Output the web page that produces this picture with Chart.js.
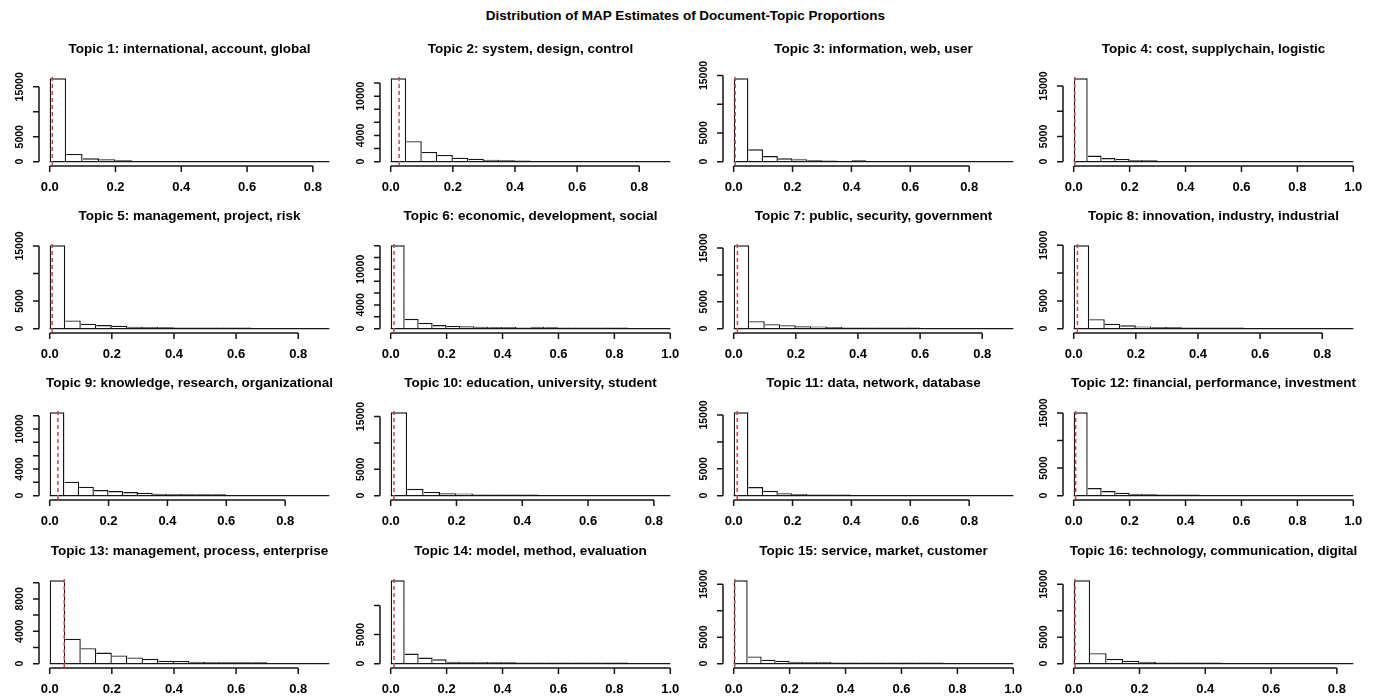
<!DOCTYPE html>
<html>
<head>
<meta charset="utf-8">
<title>Distribution of MAP Estimates of Document-Topic Proportions</title>
<script src="https://cdn.jsdelivr.net/npm/chart.js@4.4.1/dist/chart.umd.min.js"></script>
<style>
  html, body { margin: 0; padding: 0; background: #fff; }
  #page { position: relative; width: 1375px; height: 697px; overflow: hidden; }
  #mainTitle {
    position: absolute; left: 0; top: 8px; width: 1371px; text-align: center;
    font: bold 13.5px "Liberation Sans", Arial, sans-serif; line-height: 16px; color: #000;
  }
  canvas { position: absolute; }
</style>
</head>
<body>
<div id="page">
  <div id="mainTitle">Distribution of MAP Estimates of Document-Topic Proportions</div>
</div>
<script>
// histogram bins are 0.05 wide, starting at 0
const binWidth = 0.05;

const topicTitles = [
  'Topic 1: international, account, global',
  'Topic 2: system, design, control',
  'Topic 3: information, web, user',
  'Topic 4: cost, supplychain, logistic',
  'Topic 5: management, project, risk',
  'Topic 6: economic, development, social',
  'Topic 7: public, security, government',
  'Topic 8: innovation, industry, industrial',
  'Topic 9: knowledge, research, organizational',
  'Topic 10: education, university, student',
  'Topic 11: data, network, database',
  'Topic 12: financial, performance, investment',
  'Topic 13: management, process, enterprise',
  'Topic 14: model, method, evaluation',
  'Topic 15: service, market, customer',
  'Topic 16: technology, communication, digital'
];

const counts1  = [16700, 1550, 680, 470, 270, 90, 50, 30, 15, 10, 6, 4, 3, 2, 1, 1, 1];
const counts2  = [12720, 3130, 1490, 1030, 615, 460, 310, 200, 170, 40, 25, 15, 10, 6, 4, 2, 1, 1];
const counts3  = [14500, 2150, 990, 580, 400, 240, 200, 60, 240, 40, 25, 15, 10, 6, 4, 3, 2, 1, 1];
const counts4  = [16530, 1200, 730, 530, 330, 270, 60, 40, 25, 15, 10, 8, 6, 4, 3, 2, 2, 1, 1, 1];
const counts5  = [15120, 1500, 900, 660, 540, 360, 300, 240, 230, 220, 220, 210, 200, 3, 2, 2, 1, 1];
const counts6  = [14050, 1670, 1000, 610, 440, 390, 330, 280, 280, 190, 330, 220, 210, 200, 200, 190, 190, 3, 2, 1];
const counts7  = [15500, 1400, 840, 650, 470, 400, 300, 240, 230, 220, 210, 200, 3, 2, 2, 1, 1, 1];
const counts8  = [15000, 1700, 900, 600, 400, 300, 240, 230, 220, 210, 200, 5, 3, 2, 1, 1, 1, 1];
const counts9  = [12500, 2100, 1350, 850, 700, 550, 450, 300, 250, 220, 210, 200, 3, 2, 2, 1, 1, 1, 1];
const counts10 = [15800, 1300, 700, 450, 400, 240, 230, 220, 210, 3, 2, 2, 1, 1, 1, 1, 1];
const counts11 = [15500, 1600, 900, 450, 300, 230, 220, 210, 3, 2, 2, 1, 1, 1, 1, 1, 1, 1, 1];
const counts12 = [15120, 1390, 850, 540, 360, 240, 230, 220, 210, 3, 2, 2, 1, 1, 1, 1, 1, 1, 1, 1];
const counts13 = [10290, 3090, 1910, 1380, 1020, 770, 610, 370, 325, 240, 200, 190, 190, 180, 3, 2, 1, 1];
const counts14 = [14300, 1730, 1040, 750, 350, 290, 290, 290, 230, 220, 220, 210, 210, 200, 200, 200, 190, 3, 2, 1];
const counts15 = [15740, 1370, 750, 560, 370, 310, 370, 240, 230, 220, 220, 210, 210, 200, 200, 3, 2, 1, 1, 1];
const counts16 = [15740, 1990, 930, 560, 370, 240, 230, 220, 210, 3, 2, 2, 1, 1, 1, 1, 1];

const topicCounts = [counts1, counts2, counts3, counts4, counts5, counts6, counts7, counts8,
  counts9, counts10, counts11, counts12, counts13, counts14, counts15, counts16];

// mean proportion per topic (red dashed line)
const topicMeans = [0.008, 0.027, 0.005, 0.004, 0.008, 0.012, 0.012, 0.012,
  0.028, 0.010, 0.012, 0.007, 0.047, 0.012, 0.004, 0.004];

// tick labels
const xTicksTo08 = [0, 0.2, 0.4, 0.6, 0.8];
const xTicksTo10 = [0, 0.2, 0.4, 0.6, 0.8, 1.0];
const yTicks15k = [0, 5000, 10000, 15000];
const yTicks12k = [0, 2000, 4000, 6000, 8000, 10000, 12000];
const yTicks14k = [0, 2000, 4000, 6000, 8000, 10000, 12000, 14000];
const yTicks10k = [0, 2000, 4000, 6000, 8000, 10000];
const yTicks10kBy5k = [0, 5000, 10000];

const topicXTicks = [xTicksTo08, xTicksTo08, xTicksTo08, xTicksTo10,
  xTicksTo08, xTicksTo10, xTicksTo08, xTicksTo08,
  xTicksTo08, xTicksTo08, xTicksTo08, xTicksTo10,
  xTicksTo08, xTicksTo10, xTicksTo10, xTicksTo08];
const topicYTicks = [yTicks15k, yTicks12k, yTicks15k, yTicks15k,
  yTicks15k, yTicks14k, yTicks15k, yTicks15k,
  yTicks12k, yTicks15k, yTicks15k, yTicks15k,
  yTicks10k, yTicks10kBy5k, yTicks15k, yTicks15k];

const colLeft = [0, 341, 684, 1024];
const rowTop = [30, 197, 364, 532];
const inkColor = '#151515';
const meanColor = '#c44a4a';
const fontFamily = '"Liberation Sans", Arial, sans-serif';

// R-style axes: lines only from first to last tick, rotated y labels, overlapping labels dropped
const rAxes = {
  id: 'rAxes',
  afterDraw(chart, args, opts) {
    const { ctx, chartArea: area } = chart;
    const xs = chart.scales.x, ys = chart.scales.y;
    ctx.save();
    ctx.strokeStyle = inkColor;
    ctx.fillStyle = '#000';
    ctx.lineWidth = 1.5;

    const axisY = area.bottom + 1;
    const xFirst = xs.getPixelForValue(opts.xTicks[0]);
    const xLast = xs.getPixelForValue(opts.xTicks[opts.xTicks.length - 1]);
    ctx.beginPath();
    ctx.moveTo(xFirst, axisY);
    ctx.lineTo(xLast, axisY);
    opts.xTicks.forEach(v => {
      const px = xs.getPixelForValue(v);
      ctx.moveTo(px, axisY);
      ctx.lineTo(px, axisY + 6);
    });
    const axisX = area.left + 0.5;
    const yFirst = ys.getPixelForValue(opts.yTicks[0]);
    const yLast = ys.getPixelForValue(opts.yTicks[opts.yTicks.length - 1]);
    ctx.moveTo(axisX, yFirst);
    ctx.lineTo(axisX, yLast);
    opts.yTicks.forEach(v => {
      const py = ys.getPixelForValue(v);
      ctx.moveTo(axisX, py);
      ctx.lineTo(axisX - 6, py);
    });
    ctx.stroke();

    ctx.font = 'bold 13px ' + fontFamily;
    ctx.textAlign = 'center';
    ctx.textBaseline = 'middle';
    opts.xTicks.forEach(v => {
      ctx.fillText(v.toFixed(1), xs.getPixelForValue(v), area.bottom + 22);
    });

    ctx.font = 'bold 10.5px ' + fontFamily;
    const gap = 6;
    let lastTop = Infinity;
    opts.yTicks.forEach(v => {
      const py = ys.getPixelForValue(v);
      const label = String(v);
      const half = ctx.measureText(label).width / 2;
      if (py + half + gap > lastTop) return;
      ctx.save();
      ctx.translate(area.left - 18, py);
      ctx.rotate(-Math.PI / 2);
      ctx.fillText(label, 0, 0);
      ctx.restore();
      lastTop = py - half;
    });
    ctx.restore();
  }
};

const page = document.getElementById('page');

topicCounts.forEach((counts, i) => {
  const canvas = document.createElement('canvas');
  canvas.width = 345;
  canvas.height = 167;
  canvas.style.left = colLeft[i % 4] + 'px';
  canvas.style.top = rowTop[Math.floor(i / 4)] + 'px';
  page.appendChild(canvas);

  const lastBreak = counts.length * binWidth;
  const peak = Math.max(...counts);

  new Chart(canvas, {
    type: 'bar',
    data: {
      datasets: [
        {
          type: 'line',
          data: [{ x: topicMeans[i], y: -0.04 * peak }, { x: topicMeans[i], y: 1.04 * peak }],
          borderColor: meanColor,
          borderWidth: 1.5,
          borderDash: [4, 3],
          pointRadius: 0,
          order: 0
        },
        {
          type: 'line',
          data: [{ x: 0, y: 0 }, { x: lastBreak, y: 0 }],
          borderColor: inkColor,
          borderWidth: 1.4,
          pointRadius: 0,
          order: 1
        },
        {
          type: 'bar',
          data: counts.map((c, k) => ({ x: (k + 0.5) * binWidth, y: c })),
          backgroundColor: '#fff',
          borderColor: inkColor,
          borderWidth: ctx => ({ top: 1.4, right: 1.4, bottom: 0, left: ctx.dataIndex === 0 ? 1.4 : 0 }),
          borderSkipped: false,
          barPercentage: 1,
          categoryPercentage: 1,
          inflateAmount: 0,
          order: 2
        }
      ]
    },
    options: {
      responsive: false,
      animation: false,
      devicePixelRatio: 1,
      events: [],
      layout: { padding: { left: 38.5, right: 4.5, top: 0, bottom: 32 } },
      scales: {
        x: { type: 'linear', display: false, offset: false, min: -0.04 * lastBreak, max: 1.04 * lastBreak },
        y: { type: 'linear', display: false, min: -0.04 * peak, max: 1.04 * peak }
      },
      plugins: {
        legend: { display: false },
        tooltip: { enabled: false },
        title: {
          display: true,
          text: topicTitles[i],
          fullSize: false,
          color: '#000',
          font: { family: fontFamily, size: 13.5, weight: 'bold', lineHeight: 1.2 },
          padding: { top: 11, bottom: 17.8 }
        },
        rAxes: { xTicks: topicXTicks[i], yTicks: topicYTicks[i] }
      }
    },
    plugins: [rAxes]
  });
});
</script>
</body>
</html>
